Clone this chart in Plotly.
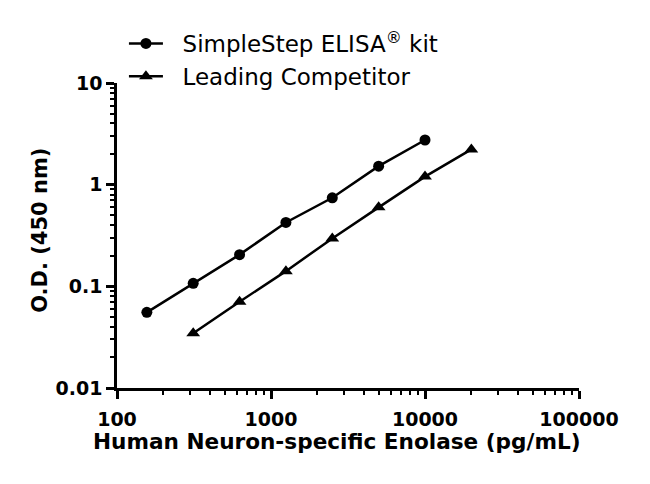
import plotly.graph_objects as go

# concentrations (pg/mL) and O.D. readings
conc_simple = [156.25, 312.5, 625, 1250, 2500, 5000, 10000]
od_simple = [0.0555, 0.107, 0.205, 0.425, 0.743, 1.52, 2.75]
conc_comp = [312.5, 625, 1250, 2500, 5000, 10000, 20000]
od_comp = [0.0345, 0.0706, 0.141, 0.296, 0.598, 1.20, 2.22]

x_ticks = [100, 1000, 10000, 100000]
x_labels = ['100', '1000', '10000', '100000']
y_ticks = [0.01, 0.1, 1, 10]
y_labels = ['0.01', '0.1', '1', '10']

font_name = 'DejaVu Sans'
pad = '\u00a0\u00a0'  # a little room between legend symbol and text

fig = go.Figure()
fig.add_trace(go.Scatter(
    x=conc_simple, y=od_simple, mode='lines+markers',
    name=pad + 'SimpleStep ELISA<sup>®</sup> kit',
    line=dict(color='black', width=2.5),
    marker=dict(symbol='circle', size=11, color='black'),
))
fig.add_trace(go.Scatter(
    x=conc_comp, y=od_comp, mode='lines+markers',
    name=pad + 'Leading Competitor',
    line=dict(color='black', width=2.5),
    marker=dict(symbol='triangle-up', size=12, color='black'),
))

axis_common = dict(
    type='log', showgrid=False, zeroline=False, automargin=False,
    showline=True, linecolor='black', linewidth=2.5,
    ticks='outside', ticklen=8, tickwidth=2.5, tickcolor='black',
    tickfont=dict(family=font_name, size=19, color='black', weight='bold'),
    minor=dict(ticks='outside', ticklen=4, tickwidth=2, tickcolor='black', dtick='D1'),
)

fig.update_xaxes(range=[2, 5], tickvals=x_ticks, ticktext=x_labels,
                 ticklabelstandoff=4, **axis_common)
fig.update_yaxes(range=[-2, 1], tickvals=y_ticks, ticktext=y_labels,
                 ticklabelstandoff=0, **axis_common)

# axis titles as annotations so they sit where the reference puts them
title_font = dict(family=font_name, size=21.6, color='black', weight='bold')
fig.add_annotation(
    text='Human Neuron-specific Enolase (pg/mL)', xref='paper', yref='paper',
    x=0.477, y=-0.177, xanchor='center', yanchor='middle', showarrow=False,
    font=title_font,
)
fig.add_annotation(
    text='O.D. (450 nm)', xref='paper', yref='paper', textangle=-90,
    x=-0.167, y=0.518, xanchor='center', yanchor='middle', showarrow=False,
    font=dict(family=font_name, size=21, color='black', weight='bold'),
)

fig.update_layout(
    width=650, height=484,
    margin=dict(l=109, r=79, t=75, b=104, autoexpand=False),
    paper_bgcolor='white', plot_bgcolor='white',
    font=dict(family=font_name, color='black'),
    legend=dict(x=0.015, y=1.20, xanchor='left', yanchor='top', itemwidth=34,
                font=dict(family=font_name, size=23, color='black'),
                bgcolor='rgba(0,0,0,0)'),
    showlegend=True,
)

fig.write_html('out.html')
